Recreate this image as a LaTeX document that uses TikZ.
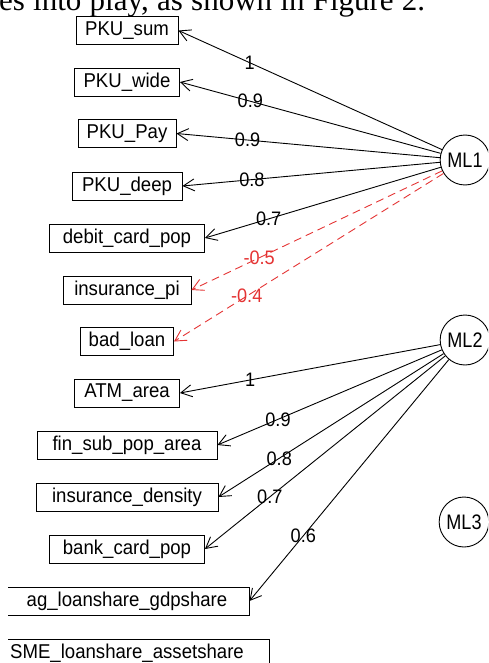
\documentclass[tikz,border=0pt]{standalone}
\usepackage{fontspec}
\setmainfont{Liberation Serif}
\newfontfamily\plotfont[FakeStretch=0.93]{Liberation Sans}
\newfontfamily\facfont[FakeStretch=0.86]{Liberation Sans}
\usetikzlibrary{arrows.meta,shapes.geometric}
\definecolor{negred}{RGB}{228,52,52}

\begin{document}
\begin{tikzpicture}[x=1pt,y=-1pt,
    var/.style={draw, line width=.9pt, inner sep=0pt, minimum height=28pt, minimum width=#1,
      font=\plotfont\fontsize{20}{22}\selectfont},
    fac/.style={draw, ellipse, line width=.9pt, inner sep=0pt, minimum width=43pt, minimum height=50pt,
      font=\facfont\fontsize{21}{22}\selectfont},
    load/.style={line width=.9pt, -{Straight Barb[length=11pt,width=12pt]}},
    negload/.style={load, negred, dash pattern=on 8pt off 5pt},
    wt/.style={pos=.73, inner sep=0pt, font=\plotfont\fontsize{19.5}{20}\selectfont}]
             \useasboundingbox (0,0) rectangle (488,663);
             \node[anchor=base west, inner sep=0pt, font=\fontsize{31}{32}\selectfont] (caption) at (-1,11)
               {\makebox[426pt][s]{es into play, as shown in Figure 2.}};

             \begin{scope}
             \clip (8,14) rectangle (488,663);
             \node[var=102pt] (sum) at (127,30.5) {PKU\_sum};
             \node[var=105pt] (wide) at (127,82) {PKU\_wide};
             \node[var=98pt] (pay) at (127,133.5) {PKU\_Pay};
             \node[var=110pt] (deep) at (127,186) {PKU\_deep};
             \node[var=155pt] (debit) at (127,238) {debit\_card\_pop};
             \node[var=128pt] (inspi) at (127,290) {insurance\_pi};
             \node[var=93pt] (bad) at (127,341.5) {bad\_loan};
             \node[var=105pt] (atm) at (127,393) {ATM\_area};
             \node[var=180pt] (finsub) at (127,445) {fin\_sub\_pop\_area};
             \node[var=182pt] (insden) at (127,497) {insurance\_density};
             \node[var=155pt] (bank) at (127,549) {bank\_card\_pop};
             \node[var=244pt] (agloan) at (127,601) {ag\_loanshare\_gdpshare};
             \node[var=284pt] (smeloan) at (127,653) {SME\_loanshare\_assetshare};

             \node[fac] (ml1) at (465,160) {ML1};
             \node[fac] (ml2) at (465,340) {ML2};
             \node[fac] (ml3) at (464,522) {ML3};

             \draw[load] (ml1) -- (sum.east) node[wt] {1};
             \draw[load] (ml1) -- (wide.east) node[wt] {0.9};
             \draw[load] (ml1) -- (pay.east) node[wt] {0.9};
             \draw[load] (ml1) -- (deep.east) node[wt] {0.8};
             \draw[load] (ml1) -- (debit.east) node[wt] {0.7};
             \draw[negload] (ml1) -- (inspi.east) node[wt] {-0.5};
             \draw[negload] (ml1) -- (bad.east) node[wt] {-0.4};

             \draw[load] (ml2) -- (atm.east) node[wt] {1};
             \draw[load] (ml2) -- (finsub.east) node[wt] {0.9};
             \draw[load] (ml2) -- (insden.east) node[wt] {0.8};
             \draw[load] (ml2) -- (bank.east) node[wt] {0.7};
             \draw[load] (ml2) -- (agloan.east) node[wt] {0.6};
             \end{scope}
\end{tikzpicture}
\end{document}
